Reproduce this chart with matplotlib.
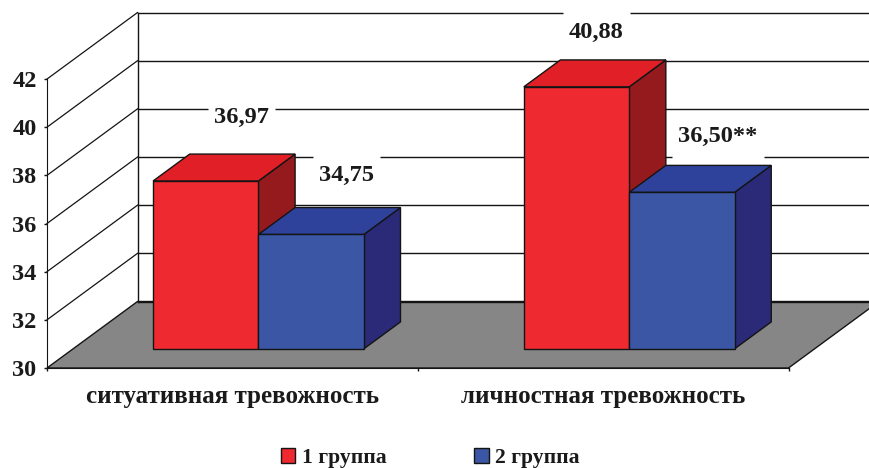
import matplotlib
matplotlib.use("Agg")
import matplotlib.pyplot as plt
from matplotlib.patches import Patch, Polygon


categories = ["ситуативная тревожность", "личностная тревожность"]
group_names = ["1 группа", "2 группа"]
group_1 = [36.97, 40.88]
group_2 = [34.75, 36.50]
value_labels_1 = ["36,97", "40,88"]
value_labels_2 = ["34,75", "36,50**"]
y_ticks = [30, 32, 34, 36, 38, 40, 42]

WIDTH = 869
HEIGHT = 468
Y_BASE = 30
UNIT_PX = 24.08  # pixels per y unit
CAT_PX = 370.75  # pixels per category

# oblique projection of the depth axis, in data units
DEPTH_X = 90.5 / CAT_PX
DEPTH_Y = 66.5 / UNIT_PX
BAR_DEPTH_FROM = 0.288
BAR_DEPTH_TO = 0.288 + 0.405
BAR_W = 105.4 / CAT_PX

EDGE = "#141414"
FLOOR = "#868686"
RED = {"front": "#EE2A30", "top": "#E01F26", "side": "#951A1D"}
BLUE = {"front": "#3A56A5", "top": "#2F429B", "side": "#2A2A78"}

plt.rcParams["font.family"] = ["Liberation Serif", "DejaVu Serif"]
plt.rcParams["font.weight"] = "bold"


def proj(x, y, depth):
    return (x + depth * DEPTH_X, y + depth * DEPTH_Y)


def draw_bar(ax, left, value, colors, zorder):
    right = left + BAR_W
    d0, d1 = BAR_DEPTH_FROM, BAR_DEPTH_TO
    faces = [
        ("side", [(right, value, d0), (right, value, d1),
                  (right, Y_BASE, d1), (right, Y_BASE, d0)]),
        ("top", [(left, value, d0), (left, value, d1),
                 (right, value, d1), (right, value, d0)]),
        ("front", [(left, Y_BASE, d0), (left, value, d0),
                   (right, value, d0), (right, Y_BASE, d0)]),
    ]
    for name, corners in faces:
        ax.add_patch(Polygon(
            [proj(*c) for c in corners],
            closed=True,
            facecolor=colors[name],
            edgecolor=EDGE,
            linewidth=1.0,
            joinstyle="miter",
            zorder=zorder,
        ))


fig = plt.figure(figsize=(WIDTH / 100, HEIGHT / 100), dpi=100)
ax = fig.add_axes([0, 0, 1, 1])
ax.set_xlim(-47 / CAT_PX, (WIDTH - 47) / CAT_PX)
ax.set_ylim(Y_BASE - (HEIGHT - 368) / UNIT_PX, Y_BASE + 368 / UNIT_PX)

n_cat = len(categories)

# floor
floor_pts = [proj(0, Y_BASE, 0), proj(n_cat, Y_BASE, 0),
             proj(n_cat, Y_BASE, 1), proj(0, Y_BASE, 1)]
ax.add_patch(Polygon(floor_pts, closed=True, facecolor=FLOOR,
                     edgecolor=EDGE, linewidth=1.0, zorder=1))

# walls
for v in y_ticks:
    x0, y0 = proj(0, v, 1)
    ax.plot([x0, n_cat + DEPTH_X], [y0, y0], color=EDGE, lw=1.0, zorder=1.2)
    if v > Y_BASE:
        xa, ya = proj(0, v, 0)
        ax.plot([xa, x0], [ya, y0], color=EDGE, lw=0.9, zorder=1.2)
x0, y0 = proj(0, y_ticks[0], 1)
x1, y1 = proj(0, y_ticks[-1], 1)
ax.plot([x0, x1], [y0, y1], color=EDGE, lw=1.0, zorder=1.2)

# bars and value labels
label_offsets_1 = [(36, 64), (20, 54)]
label_offsets_2 = [(35.5, 59.5), (34, 56)]
label_gridlines = [(38, 36), (42, 36)]
label_shift_2 = [0, 2]

annotations = []
for i in range(n_cat):
    left = i + 0.5 - BAR_W
    draw_bar(ax, left, group_1[i], RED, 3)
    draw_bar(ax, left + BAR_W, group_2[i], BLUE, 3.1)
    bars = [
        (left, group_1[i], value_labels_1[i], label_offsets_1[i]),
        (left + BAR_W, group_2[i], value_labels_2[i],
         (label_offsets_2[i][0] + label_shift_2[i], label_offsets_2[i][1])),
    ]
    for k, (bar_left, value, text, offset) in enumerate(bars):
        ann = ax.annotate(
            text,
            xy=proj(bar_left + BAR_W / 2, value, BAR_DEPTH_FROM),
            xytext=offset,
            textcoords="offset pixels",
            ha="center",
            va="center",
            fontsize=17.6,
            color="#1a1a1a",
            zorder=5,
        )
        annotations.append((ann, label_gridlines[i][k]))

# each value label interrupts the gridline it sits on
fig.canvas.draw()
renderer = fig.canvas.get_renderer()
to_data = ax.transData.inverted()
for ann, grid_value in annotations:
    box = ann.get_window_extent(renderer)
    gx0 = to_data.transform((box.x0 - 6, 0))[0]
    gx1 = to_data.transform((box.x1 + 6, 0))[0]
    gy = proj(0, grid_value, 1)[1]
    ax.plot([gx0, gx1], [gy, gy], color="white", lw=2.5,
            solid_capstyle="butt", zorder=1.5)

# axes
for side in ["top", "right"]:
    ax.spines[side].set_visible(False)
ax.spines["left"].set_position(("data", 0))
ax.spines["left"].set_bounds(y_ticks[0], y_ticks[-1])
ax.spines["bottom"].set_position(("data", Y_BASE))
ax.spines["bottom"].set_bounds(0, n_cat)
ax.spines["left"].set_color(EDGE)
ax.spines["bottom"].set_color(EDGE)

ax.set_yticks(y_ticks)
ax.set_yticklabels([str(v) for v in y_ticks])
ax.tick_params(axis="y", length=2.5, width=1.0, color=EDGE, pad=5,
               labelsize=17.5, labelcolor="#1a1a1a")

ax.set_xticks(range(n_cat + 1))
ax.set_xticklabels([""] * (n_cat + 1))
ax.tick_params(axis="x", which="major", length=2.5, width=1.0, color=EDGE)
ax.set_xticks([i + 0.5 for i in range(n_cat)], minor=True)
ax.set_xticklabels(categories, minor=True)
ax.tick_params(axis="x", which="minor", length=0, pad=12,
               labelsize=18, labelcolor="#1a1a1a")

handles = [
    Patch(facecolor=RED["front"], edgecolor=EDGE, label=group_names[0]),
    Patch(facecolor=BLUE["front"], edgecolor=EDGE, label=group_names[1]),
]
ax.legend(
    handles=handles,
    loc="center",
    bbox_to_anchor=(430.5 / WIDTH, 1 - 458 / HEIGHT),
    ncol=2,
    frameon=False,
    fontsize=15.6,
    handlelength=0.65,
    handleheight=0.65,
    handletextpad=0.32,
    columnspacing=4.05,
    labelcolor="#1a1a1a",
)

fig.savefig("out.png", dpi=100)
